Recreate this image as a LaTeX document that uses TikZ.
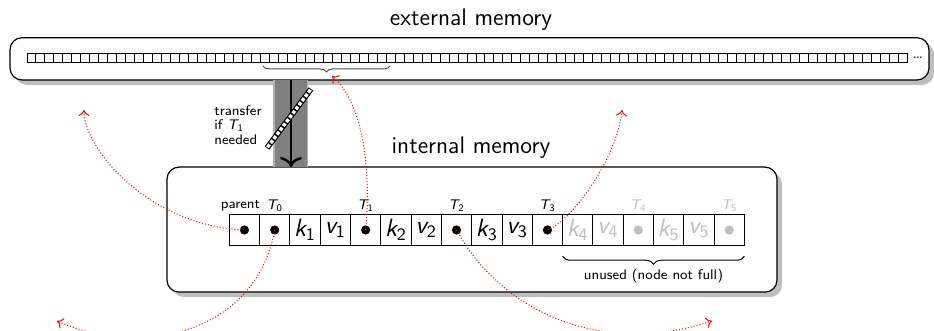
\documentclass[tikz,border=0pt]{standalone}
\usetikzlibrary{shadows,decorations.pathreplacing,arrows.meta}
\newcommand\mv[2]{{\itshape #1}\textsubscript{#2}}
\begin{document}
\begin{tikzpicture}[x=0.5pt,y=-0.5pt,font=\sffamily,
  membox/.style={draw=black,line width=0.6pt,fill=white,rounded corners=6pt,
    drop shadow={shadow xshift=2.5pt,shadow yshift=-2.5pt,opacity=1,fill=black!25},inner sep=0pt},
  cell/.style={draw=black,line width=0.5pt,minimum width=15.15pt,minimum height=15.25pt,
    inner sep=0pt,outer sep=0pt,font=\sffamily\fontsize{12.5}{15}\selectfont},
  unusedtext/.style={text=black!25},
  lab/.style={font=\sffamily\scriptsize,inner sep=1.5pt},
  ptr/.style={red,densely dotted,line width=0.5pt,-{Computer Modern Rightarrow[length=3pt,width=5.5pt]}},
  title/.style={font=\sffamily\large}]
\useasboundingbox (0,0) rectangle (934,331);
\clip (0,0) rectangle (934,331);

% external memory
\node[title] (exttitle) at (471,20) {external memory};
\node[membox,minimum width=459.5pt,minimum height=21.15pt] (ext) at (469.5,58.85) {};
\foreach \i in {0,...,97}
  \draw[line width=0.5pt] ({27+\i*8.98},54) rectangle ++(8.98,9);
\node[font=\scriptsize,inner sep=0pt] (moredots) at (918,57.5) {\dots};
\coordinate (b1) at (390,66);
\coordinate (b2) at (263,66);
\draw[decorate,decoration={brace,amplitude=3pt},black!70,line width=0.5pt] (b1) -- (b2);

% internal memory
\node[title] (inttitle) at (471,148) {internal memory};
\node[membox,minimum width=305pt,minimum height=62.5pt] (int) at (472,229.6) {};

% transfer band and arrow
\fill[black!30] (273,80.5) rectangle (308,167);
\fill[black!50] (275,80.5) rectangle (306.5,167);
\coordinate (a1) at (291,80.5);
\coordinate (a2) at (291,167);
\draw[line width=1.2pt,-{Computer Modern Rightarrow[length=5pt,width=11pt]}] (a1) -- (a2);
\begin{scope}[shift={(267,148)},rotate=53.3]
  \fill[black] (0,-2.8) rectangle (73.6,2.8);
  \foreach \i in {0,...,13}
    \fill[white] ({\i*5.257+0.9},-1.7) rectangle ({(\i+1)*5.257-0.9},1.7);
\end{scope}
\node[font=\sffamily\fontsize{7}{7.4}\selectfont,align=left,anchor=west,inner sep=0pt] (tr) at (214,125)
  {transfer\\if \mv{T}{1}\\needed};

% node cells
\node[cell] (c0) at (244.45,230) {};
\node[cell] (c1) at (274.75,230) {};
\node[cell] (c2) at (305.05,230) {\mv{k}{1}};
\node[cell] (c3) at (335.35,230) {\mv{v}{1}};
\node[cell] (c4) at (365.65,230) {};
\node[cell] (c5) at (395.95,230) {\mv{k}{2}};
\node[cell] (c6) at (426.25,230) {\mv{v}{2}};
\node[cell] (c7) at (456.55,230) {};
\node[cell] (c8) at (486.85,230) {\mv{k}{3}};
\node[cell] (c9) at (517.15,230) {\mv{v}{3}};
\node[cell] (c10) at (547.45,230) {};
\node[cell,unusedtext] (c11) at (577.75,230) {\mv{k}{4}};
\node[cell,unusedtext] (c12) at (608.05,230) {\mv{v}{4}};
\node[cell] (c13) at (638.35,230) {};
\node[cell,unusedtext] (c14) at (668.65,230) {\mv{k}{5}};
\node[cell,unusedtext] (c15) at (698.95,230) {\mv{v}{5}};
\node[cell] (c16) at (729.25,230) {};

\foreach \c in {c0,c1,c4,c7,c10} \fill[black] (\c.center) circle (2.3pt);
\foreach \c in {c13,c16} \fill[black!25] (\c.center) circle (2.3pt);

% labels
\node[lab,anchor=south] (lp) at ([xshift=-2pt]c0.north) {parent};
\node[lab,anchor=south] (l0) at (c1.north) {\mv{T}{0}};
\node[lab,anchor=south] (l1) at (c4.north) {\mv{T}{1}};
\node[lab,anchor=south] (l2) at (c7.north) {\mv{T}{2}};
\node[lab,anchor=south] (l3) at (c10.north) {\mv{T}{3}};
\node[lab,anchor=south,text=black!25] (l4) at (c13.north) {\mv{T}{4}};
\node[lab,anchor=south,text=black!25] (l5) at (c16.north) {\mv{T}{5}};

\draw[decorate,decoration={brace,amplitude=4pt,mirror},line width=0.5pt]
  ([yshift=-5.5pt]c11.south west) -- ([yshift=-5.5pt]c16.south east)
  node[midway,below=5pt,lab,inner sep=1pt] (unusedlab) {unused (node not full)};

% pointers
\coordinate (e0) at (84,110);
\coordinate (e1) at (57,321);
\coordinate (e4) at (332,76);
\coordinate (e7) at (712,321);
\coordinate (e10) at (622,110);
\draw[ptr] (c0.center) .. controls (150,226) and (84,150) .. (e0);
\draw[ptr] (c1.center) .. controls (255,335) and (140,358) .. (e1);
\draw[ptr] (c4.center) .. controls (372,160) and (360,100) .. (e4);
\draw[ptr] (c7.center) .. controls (500,310) and (600,358) .. (e7);
\draw[ptr] (c10.center) .. controls (570,222) and (617,160) .. (e10);
\end{tikzpicture}
\end{document}
